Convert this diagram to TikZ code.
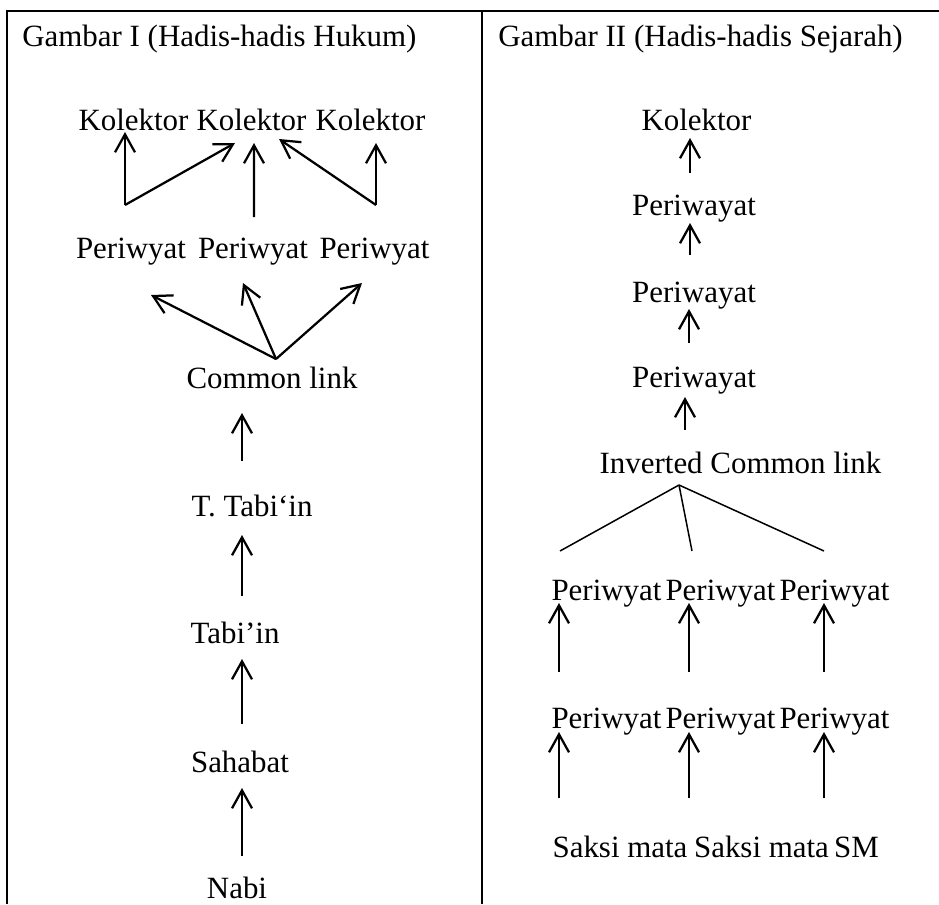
\documentclass[tikz,border=0pt]{standalone}
\usepackage{fontspec}
\setmainfont{Liberation Serif}
\usepackage{tikz}
\usetikzlibrary{arrows.meta,calc}

\begin{document}
\begin{tikzpicture}[
  x=0.02cm,y=-0.02cm,
  lbl/.style={inner sep=0pt,anchor=base,text height=0.42cm,text depth=0.14cm,font=\fontsize{17.6}{21}\selectfont},
  ttl/.style={lbl,anchor=base west},
  ar/.style={-{Straight Barb[length=0.36cm,width=0.4cm]},line width=0.045cm},
  ln/.style={line width=0.03cm},
  frame/.style={line width=0.045cm}]
\useasboundingbox (0,0) rectangle (939,904);
\draw[frame] (7,904) -- (7,11) -- (939,11);
\draw[frame] (482,11) -- (482,904);
\node[ttl] (t1) at (22,46) {Gambar I (Hadis-hadis Hukum)};
\node[lbl] (k1) at (133.5,130) {Kolektor};
\node[lbl] (k2) at (251.5,130) {Kolektor};
\node[lbl] (k3) at (370.5,130) {Kolektor};
\node[lbl] (pw1) at (131,258) {Periwyat};
\node[lbl] (pw2) at (253,258) {Periwyat};
\node[lbl] (pw3) at (374.5,258) {Periwyat};
\node[lbl] (clink) at (272,388) {Common link};
\node[lbl] (ttab) at (252,516) {T. Tabi‘in};
\node[lbl] (tab) at (235,643) {Tabi’in};
\node[lbl] (sah) at (240,772) {Sahabat};
\node[lbl] (nabi) at (237,898) {Nabi};
\coordinate (spine) at (242,0);
\draw[ar] ($(nabi.base -| spine)+(0,-42)$) -- ($(sah.base -| spine)+(0,16)$);
\draw[ar] ($(sah.base -| spine)+(0,-48)$) -- ($(tab.base -| spine)+(0,16)$);
\draw[ar] ($(tab.base -| spine)+(0,-47)$) -- ($(ttab.base -| spine)+(0,19)$);
\draw[ar] ($(ttab.base -| spine)+(0,-55)$) -- ($(clink.base -| spine)+(0,25)$);
\coordinate (cl) at ($(clink.base)+(4,-29)$);
\draw[ar] (cl) -- ($(pw1.base)+(20,37)$);
\draw[ar] (cl) -- ($(pw2.base)+(-10,25)$);
\draw[ar] (cl) -- ($(pw3.base)+(-12.5,25)$);
\coordinate (fl) at ($(pw1.base)+(-6,-53)$);
\draw[ar] (fl) -- ($(fl |- k1.base)+(0,2)$);
\draw[ar] (fl) -- ($(k2.base)+(-16.5,13)$);
\draw[ar] ($(pw2.base)+(1,-41)$) -- ($(k2.base)+(2.5,13)$);
\coordinate (fr) at ($(pw3.base)+(1.5,-53)$);
\draw[ar] (fr) -- ($(fr |- k3.base)+(0,13)$);
\draw[ar] (fr) -- ($(k2.base)+(27.5,9)$);
\node[ttl] (t2) at (498,46) {Gambar II (Hadis-hadis Sejarah)};
\node[lbl] (kol) at (696.5,130) {Kolektor};
\node[lbl] (py1) at (694,215) {Periwayat};
\node[lbl] (py2) at (694,302) {Periwayat};
\node[lbl] (py3) at (694,387) {Periwayat};
\node[lbl] (icl) at (740.5,473) {Inverted Common link};
\node[lbl] (ra1) at (606.5,600) {Periwyat};
\node[lbl] (ra2) at (720.5,600) {Periwyat};
\node[lbl] (ra3) at (834.5,600) {Periwyat};
\node[lbl] (rb1) at (606.5,728) {Periwyat};
\node[lbl] (rb2) at (720.5,728) {Periwyat};
\node[lbl] (rb3) at (834.5,728) {Periwyat};
\node[lbl] (sm1) at (620,857) {Saksi mata};
\node[lbl] (sm2) at (761.5,857) {Saksi mata};
\node[lbl] (sm3) at (856.5,857) {SM};
\draw[ar] ($(py1.base)+(-4,-42)$) -- ($(kol.base)+(-6.5,8)$);
\draw[ar] ($(py2.base)+(-4,-47)$) -- ($(py1.base)+(-4,8)$);
\draw[ar] ($(py3.base)+(-5,-44)$) -- ($(py2.base)+(-5,7)$);
\draw[ar] ($(icl.base)+(-55.5,-43)$) -- ($(py3.base)+(-9,10)$);
\coordinate (ic) at ($(icl.base)+(-61.5,12)$);
\draw[ln] (ic) -- ($(ra1.base)+(-46.5,-49)$);
\draw[ln] (ic) -- ($(ra2.base)+(-28.5,-49)$);
\draw[ln] (ic) -- ($(ra3.base)+(-10.5,-49)$);
\draw[ar] ($(rb1.base)+(-47.5,-56)$) -- ($(ra1.base)+(-47.5,3)$);
\draw[ar] ($(rb2.base)+(-31.5,-56)$) -- ($(ra2.base)+(-31.5,3)$);
\draw[ar] ($(rb3.base)+(-10.5,-56)$) -- ($(ra3.base)+(-10.5,3)$);
\draw[ar] ($(sm1.base)+(-61,-59)$) -- ($(rb1.base)+(-47.5,4)$);
\draw[ar] ($(sm2.base)+(-72.5,-59)$) -- ($(rb2.base)+(-31.5,4)$);
\draw[ar] ($(sm3.base)+(-32.5,-59)$) -- ($(rb3.base)+(-10.5,4)$);
\end{tikzpicture}
\end{document}
